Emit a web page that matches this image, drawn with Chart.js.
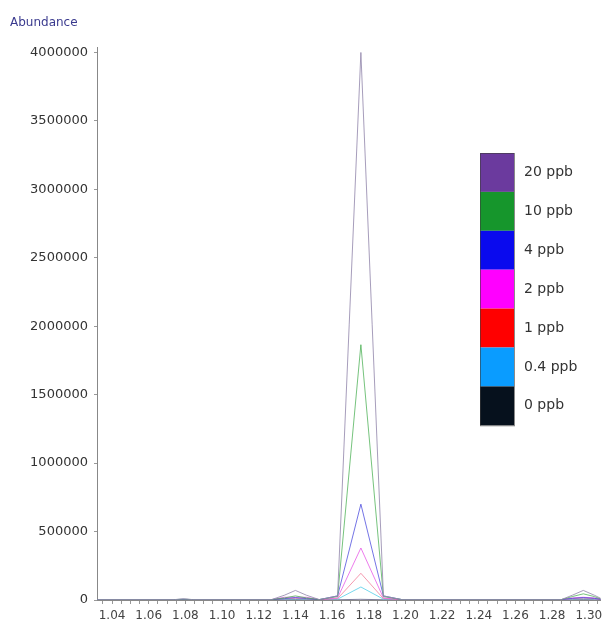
<!DOCTYPE html>
<html>
<head>
<meta charset="utf-8">
<script src="https://cdn.jsdelivr.net/npm/chart.js@4.4.0/dist/chart.umd.min.js"></script>
<style>
  html, body { margin: 0; padding: 0; background: #fff; }
  #wrap { width: 603px; height: 624px; position: relative; }
</style>
</head>
<body>
<div id="wrap"><canvas id="c" width="603" height="624"></canvas></div>
<script>
// ---- data ----
const retentionTimes = [1.032, 1.074, 1.079, 1.084, 1.127, 1.134, 1.140, 1.146, 1.153, 1.163, 1.1757, 1.188, 1.198, 1.285, 1.291, 1.297, 1.303, 1.3065];
const seriesLabels = ['20 ppb', '10 ppb', '4 ppb', '2 ppb', '1 ppb', '0.4 ppb', '0 ppb'];
const ppb20  = [3000, 3000, 8000, 3000, 3000, 35000, 70000, 35000, 3000, 30000, 4000000, 30000, 3000, 3000, 35000, 70000, 35000, 12000];
const ppb10  = [3000, 3000, 6000, 3000, 3000, 15000, 30000, 15000, 3000, 25000, 1865000, 25000, 3000, 3000, 25000, 45000, 25000, 8000];
const ppb4   = [3000, 3000, 5000, 3000, 3000, 10000, 18000, 10000, 3000, 30000, 700000, 30000, 3000, 3000, 12000, 18000, 12000, 5000];
const ppb2   = [3000, 3000, 5000, 3000, 3000, 20000, 20000, 20000, 3000, 15000, 380000, 15000, 3000, 3000, 15000, 20000, 15000, 5000];
const ppb1   = [2000, 2000, 3000, 2000, 2000, 8000, 12000, 8000, 2000, 10000, 195000, 10000, 2000, 2000, 10000, 14000, 10000, 3000];
const ppb04  = [1000, 1000, 2000, 1000, 1000, 5000, 8000, 5000, 1000, 6000, 95000, 6000, 1000, 1000, 8000, 10000, 8000, 2000];
const ppb0   = [1000, 1000, 1000, 1000, 1000, 2000, 3000, 2000, 1000, 2000, 5000, 2000, 1000, 1000, 2000, 3000, 2000, 1000];
const xTickLabels = ['1.04','1.06','1.08','1.10','1.12','1.14','1.16','1.18','1.20','1.22','1.24','1.26','1.28','1.30'];
const yTickValues = [0, 500000, 1000000, 1500000, 2000000, 2500000, 3000000, 3500000, 4000000];

// ---- styles ----
const legendColors = ['#6b3a9e', '#16962c', '#0a0aee', '#ff00ff', '#ff0000', '#0a9cff', '#06111d'];
const lineColors = ['rgba(150,140,175,0.85)', 'rgba(60,170,70,0.7)', 'rgba(70,70,220,0.75)', 'rgba(230,80,230,0.75)', 'rgba(240,110,140,0.7)', 'rgba(60,200,230,0.7)', 'rgba(40,40,90,0.6)'];
const allSeries = [ppb20, ppb10, ppb4, ppb2, ppb1, ppb04, ppb0];
const FONT = '"DejaVu Sans", Verdana, sans-serif';

const datasets = allSeries.map((vals, i) => ({
  label: seriesLabels[i],
  data: vals.map((v, j) => ({ x: retentionTimes[j], y: v })),
  borderColor: lineColors[i],
  backgroundColor: legendColors[i],
  borderWidth: 1,
  pointRadius: 0,
  showLine: true,
  tension: 0
}));

// tick positions: major labels plus minor quarter steps between them
const majorVals = xTickLabels.map(Number);
const xTickVals = [];
majorVals.forEach((v, i) => {
  xTickVals.push(v);
  if (i < majorVals.length - 1) {
    for (let k = 1; k < 4; k++) xTickVals.push(+(v + k * 0.005).toFixed(3));
  }
});
xTickVals.unshift(1.035);
xTickVals.push(1.305);

const legendPlugin = {
  id: 'boxLegend',
  afterDraw(chart) {
    const ctx = chart.ctx;
    const x0 = 480, y0 = 153, w = 34, h = 38.9;
    ctx.save();
    chart.data.datasets.forEach((ds, i) => {
      ctx.fillStyle = ds.backgroundColor;
      ctx.fillRect(x0, y0 + i * h, w, h);
      ctx.fillStyle = '#333';
      ctx.font = '14px ' + FONT;
      ctx.textBaseline = 'middle';
      ctx.textAlign = 'left';
      ctx.fillText(ds.label, x0 + 44, y0 + i * h + h / 2);
    });
    ctx.strokeStyle = 'rgba(60,60,60,0.6)';
    ctx.lineWidth = 1;
    ctx.strokeRect(x0 + 0.5, y0 + 0.5, w, h * chart.data.datasets.length);
    ctx.fillStyle = '#3a3a8e';
    ctx.font = '12px ' + FONT;
    ctx.textBaseline = 'alphabetic';
    ctx.fillText('Abundance', 10, 26);
    ctx.restore();
  }
};

new Chart(document.getElementById('c'), {
  type: 'scatter',
  data: { datasets },
  plugins: [legendPlugin],
  options: {
    responsive: false,
    animation: false,
    layout: { padding: { top: 47, right: 2, left: 0, bottom: 0 } },
    plugins: { legend: { display: false }, tooltip: { enabled: false } },
    scales: {
      x: {
        type: 'linear',
        min: 1.0318,
        max: 1.3065,
        afterBuildTicks: (s) => { s.ticks = xTickVals.map(v => ({ value: v })); },
        afterFit: (s) => { s.height = 24; },
        ticks: {
          autoSkip: false,
          maxRotation: 0,
          padding: 5,
          color: '#444',
          font: { size: 12, family: FONT },
          callback: (v) => {
            const i = majorVals.findIndex(m => Math.abs(m - v) < 1e-6);
            return i >= 0 ? xTickLabels[i] : '';
          }
        },
        grid: { drawOnChartArea: false, tickLength: 4, color: '#999' },
        border: { color: '#888', width: 1 }
      },
      y: {
        min: 0,
        max: 4040000,
        afterBuildTicks: (s) => { s.ticks = yTickValues.map(v => ({ value: v })); },
        afterFit: (s) => { s.width = 97; },
        ticks: {
          padding: 6,
          color: '#333',
          font: { size: 13, family: FONT },
          callback: (v) => String(v)
        },
        grid: { drawOnChartArea: false, tickLength: 3, color: '#999' },
        border: { color: '#888', width: 1 }
      }
    }
  }
});
</script>
</body>
</html>
